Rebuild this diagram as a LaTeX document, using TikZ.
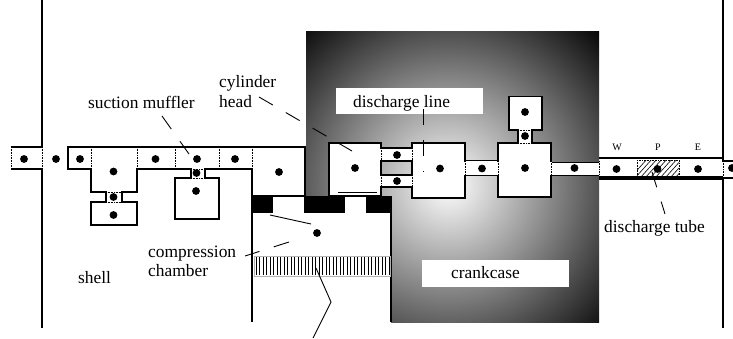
\documentclass[tikz,border=0pt]{standalone}
\usepackage{fontspec}
\setmainfont{Liberation Serif}
\tikzset{
  wall/.style={line width=1.3pt},
  cellbox/.style={draw,fill=white,line width=1.3pt},
  celldiv/.style={line width=0.6pt,densely dotted},
  leader/.style={line width=0.9pt,dash pattern=on 16pt off 15pt},
  caption/.style={font=\fontsize{17.4}{20}\selectfont,inner sep=0pt,anchor=base west,align=left},
  smallcaption/.style={font=\fontsize{10}{12}\selectfont,inner sep=0pt,anchor=base},
}
\begin{document}
\begin{tikzpicture}[x=1pt,y=-1pt,line cap=butt,line join=miter]
  \useasboundingbox (0,0) rectangle (733,338);
  \begin{scope}
    \clip (306,31) rectangle (599,322);
    \shade[inner color=white,outer color=black] (448,185) circle (222);
  \end{scope}
  \fill[white] (300,213) rectangle (391,324);
  \fill[white] (273,196) rectangle (303.5,213);
  \fill[white] (345,196) rectangle (366,213);
  \fill[white] (336,88) rectangle (483,114);
  \fill[white] (422,260) rectangle (569,287);
  \draw[wall] (42,0) -- (42,147) -- (11,147);
  \draw[wall] (11,169) -- (42,169) -- (42,328);
  \draw[wall] (723,0) -- (723,161) -- (733,161);
  \draw[wall] (723,328) -- (723,178);
  \draw[line width=2.4pt] (723,178) -- (733,178);
  \draw[celldiv] (11,147) -- (11,169);
  \draw[celldiv] (42,147) -- (42,169);
  \draw[cellbox] (68,169) -- (68,147) -- (305,147) -- (305,196) -- (252,196) -- (252,169) -- (219,169) -- (205,169) -- (205,178) -- (219,178) -- (219,219) -- (175,219) -- (175,178) -- (191,178) -- (191,169) -- (137,169) -- (137,192) -- (122,192) -- (122,202) -- (137,202) -- (137,225) -- (91,225) -- (91,202) -- (106,202) -- (106,192) -- (91,192) -- (91,169) -- cycle;
  \draw[wall] (252,196) -- (252,322);
  \draw[wall] (391,213) -- (391,322);
  \foreach \xcell in {68,91,137,175,219,252}
    \draw[celldiv] (\xcell,147) -- (\xcell,169);
  \draw[celldiv] (106,192) -- (122,192);
  \draw[celldiv] (106,202) -- (122,202);
  \draw[celldiv] (191,169) -- (205,169);
  \draw[celldiv] (191,178) -- (205,178);
  \draw[cellbox] (329,143) rectangle (381,196);
  \draw[cellbox] (381,148) rectangle (412,161);
  \draw[cellbox] (381,175) rectangle (412,187);
  \draw[cellbox] (412,143) rectangle (465,198);
  \fill[white] (465,161) rectangle (498,175);
  \draw[line width=1.8pt] (465,160.5) -- (498,160.5);
  \draw[line width=0.8pt] (465,175) -- (498,175);
  \draw[cellbox] (498,143) rectangle (551,197);
  \draw[cellbox] (509,96.5) rectangle (542,130);
  \draw[cellbox] (518,130) rectangle (532,143);
  \fill[white] (551,162) rectangle (599,175);
  \draw[line width=0.8pt] (551,162) -- (599,162);
  \draw[line width=0.8pt] (551,175) -- (599,175);
  \foreach \xcell in {381,412}
    \foreach \ytop/\ybot in {148/161,175/187}
      \draw[line width=1.4pt,white] (\xcell,\ytop+0.7) -- (\xcell,\ybot-0.7);
  \foreach \xcell in {381,412}
    \foreach \ytop/\ybot in {148/161,175/187}
      \draw[celldiv] (\xcell,\ytop) -- (\xcell,\ybot);
  \foreach \xcell in {465,498,551}
    \draw[line width=1.4pt,white] (\xcell,161.5) -- (\xcell,174.5);
  \foreach \xcell in {465,498,551,599}
    \draw[celldiv] (\xcell,161) -- (\xcell,175);
  \draw[line width=1.4pt,white] (518.7,143) -- (531.3,143);
  \draw[line width=1.4pt,white] (518.7,130) -- (531.3,130);
  \draw[celldiv] (518,143) -- (532,143);
  \draw[celldiv] (518,130) -- (532,130);
  \fill[black] (251,196) rectangle (273,213);
  \fill[black] (303.5,196) rectangle (345,213);
  \fill[black] (366,196) rectangle (392,213);
  \draw[line width=1.6pt] (338,192.5) -- (377,192.5);
  \begin{scope}
    \clip (637,160) rectangle (679,176);
    \foreach \xhatch in {630,635,...,680}
      \draw[line width=0.6pt] (\xhatch,178) -- (\xhatch+18,158);
  \end{scope}
  \draw[celldiv] (637,160) rectangle (679,176);
  \draw[line width=1.6pt] (599,158) -- (723,158);
  \draw[line width=3.4pt] (599,178) -- (723,178);
  \draw[celldiv] (723,161) -- (723,176);
  \fill[white] (254,256) rectangle (390,276);
  \draw[black!30,line width=0.8pt] (254,256) rectangle (390,276);
  \foreach \xhatch in {256,259.5,...,389}
    \draw[line width=0.5pt] (\xhatch,257) -- (\xhatch,275);
  \foreach \xdot/\ydot in {24/159,56/159,80/159,113.5/171.5,113.5/197,113.5/215,155.5/159,197/159,235/159,196.5/173,196/191,279/172,355/168,397/155,397/181,440/168.5,482/168.5,525/168,525/136,525/112,574.5/168,616.5/169,657.5/169,698/169,732/168,317/233}
    \fill[black] (\xdot,\ydot) circle (3.9);
  \draw[leader] (162,116) -- (189,154);
  \draw[leader] (259,97) -- (352,151);
  \draw[leader] (423,109) -- (423,172);
  \draw[leader] (289,242) -- (245,256);
  \draw[leader] (652,172) -- (665,214);
  \draw[line width=0.9pt] (270,215) -- (311,224);
  \draw[line width=0.9pt] (316,268) -- (331,302) -- (313,338);
  \node[caption] (suction) at (88,108) {suction muffler};
  \node[caption] (cylinder) at (219,87) {cylinder};
  \node[caption] (head) at (219,107) {head};
  \node[caption] (dischargeline) at (353,107) {discharge line};
  \node[caption] (compression) at (148,257) {compression};
  \node[caption] (chamber) at (148,276) {chamber};
  \node[caption] (shell) at (78,283) {shell};
  \node[caption] (crankcase) at (451,278) {crankcase};
  \node[caption] (dischargetube) at (604,232) {discharge tube};
  \node[smallcaption] (west) at (617,150.5) {W};
  \node[smallcaption] (peclet) at (658,150.5) {P};
  \node[smallcaption] (east) at (698,150.5) {E};
\end{tikzpicture}
\end{document}
